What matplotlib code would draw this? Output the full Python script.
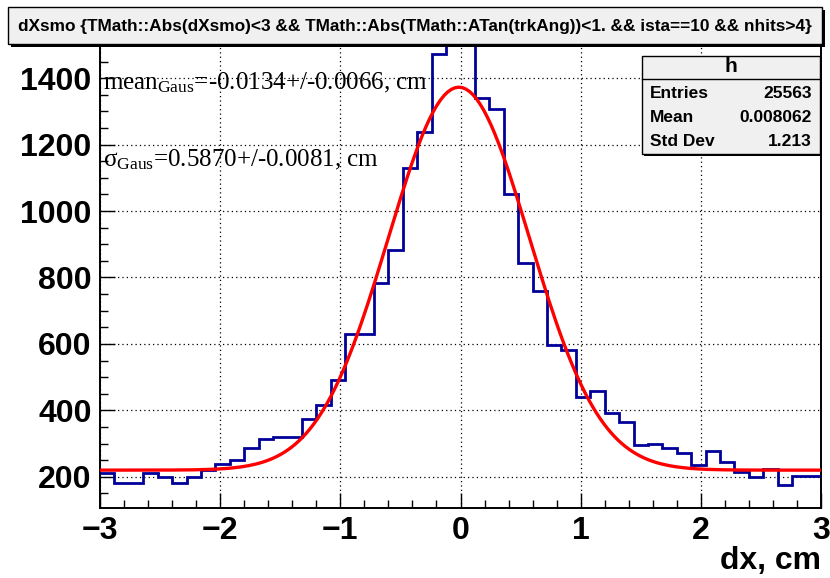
import numpy as np
import matplotlib
matplotlib.use("Agg")
import matplotlib.pyplot as plt
from matplotlib.patches import Rectangle
from matplotlib.ticker import MultipleLocator

# ---- histogram of dx residuals (50 bins on [-3, 3]) ----
x_min, x_max, n_bins = -3.0, 3.0, 50
counts = [
    212, 180, 182, 212, 200, 182, 200, 220, 237, 250,
    287, 313, 319, 320, 375, 416, 490, 630, 630, 783,
    883, 1129, 1237, 1473, 1505, 1515, 1340, 1306, 1050, 843,
    759, 597, 582, 441, 459, 393, 364, 295, 300, 287,
    272, 235, 277, 243, 214, 200, 222, 175, 202, 202,
]

# ---- gaussian + constant fit ----
fit_mean = -0.0134
fit_mean_err = 0.0066
fit_sigma = 0.5870
fit_sigma_err = 0.0081
fit_const = 220.0
fit_amp = 1153.0

# ---- statistics box ----
stats_name = "h"
stats_labels = ["Entries", "Mean", "Std Dev"]
stats_values = ["25563", "0.008062", "1.213"]

title_text = ("dXsmo {TMath::Abs(dXsmo)<3 && TMath::Abs(TMath::ATan(trkAng))<1. "
              "&& ista==10 && nhits>4}")
x_label = "dx, cm"
y_range = (106, 1497)

W, H = 830, 578
plt.rcParams["mathtext.fontset"] = "custom"
plt.rcParams["mathtext.rm"] = "Liberation Serif"
plt.rcParams["mathtext.it"] = "Liberation Serif:italic"
plt.rcParams["axes.unicode_minus"] = True

fig = plt.figure(figsize=(W / 100, H / 100), dpi=100)
fig.patch.set_facecolor("white")


def fx(px):
    return px / W


def fy(py):
    return 1 - py / H


# frame in pixel coordinates
L, R, T, B = 100, 821, 46, 508
ax = fig.add_axes([fx(L), fy(B), fx(R) - fx(L), fy(T) - fy(B)])

edges = np.linspace(x_min, x_max, n_bins + 1)
ax.stairs(counts, edges, baseline=None, color="#000099", linewidth=2.0, zorder=3)

xf = np.linspace(x_min, x_max, 200)
yf = fit_const + fit_amp * np.exp(-0.5 * ((xf - fit_mean) / fit_sigma) ** 2)
ax.plot(xf, yf, color="#ff0000", linewidth=2.4, zorder=4)

ax.set_xlim(x_min, x_max)
ax.set_ylim(*y_range)
ax.xaxis.set_major_locator(MultipleLocator(1))
ax.xaxis.set_minor_locator(MultipleLocator(0.2))
ax.yaxis.set_major_locator(MultipleLocator(200))
ax.yaxis.set_minor_locator(MultipleLocator(50))
ax.grid(True, which="major", color="black", linestyle=(0, (1, 2.5)), linewidth=0.9)
ax.tick_params(which="major", direction="in", length=11, width=1.0,
               top=False, right=False, pad=8)
ax.tick_params(which="minor", direction="in", length=5.5, width=1.0,
               top=False, right=False)
for s in ax.spines.values():
    s.set_linewidth(1.4)

tick_font = dict(family=["Liberation Sans", "DejaVu Sans"], weight="bold", size=23)
for lab in ax.get_xticklabels() + ax.get_yticklabels():
    lab.set_fontproperties(matplotlib.font_manager.FontProperties(**tick_font))
ax.tick_params(axis="y", pad=6)
ax.tick_params(axis="x", pad=6)

fig.text(fx(821), fy(561), x_label, ha="right", va="center",
         family=["Liberation Sans", "DejaVu Sans"], weight="bold", size=23)

# fit result annotations
serif = ["Liberation Serif", "DejaVu Serif"]
ax.text(0.004, 0.905,
        r"mean$_{\mathrm{Gaus}}$=%.4f+/-%.4f, cm" % (fit_mean, fit_mean_err),
        transform=ax.transAxes, family=serif, size=18, va="baseline", ha="left",
        zorder=5)
ax.text(0.004, 0.74,
        r"$\mathrm{\sigma}_{\mathrm{Gaus}}$=%.4f+/-%.4f, cm" % (fit_sigma, fit_sigma_err),
        transform=ax.transAxes, family=serif, size=18, va="baseline", ha="left",
        zorder=5)


def pave(x0, y0, x1, y1, shadow=3):
    # shaded box with drop shadow, in pixel coordinates
    fig.add_artist(Rectangle((fx(x0 + shadow), fy(y1 + shadow)),
                             fx(x1 - x0), fy(y0) - fy(y1),
                             transform=fig.transFigure, facecolor="black",
                             edgecolor="none", zorder=9))
    fig.add_artist(Rectangle((fx(x0), fy(y1)), fx(x1 - x0), fy(y0) - fy(y1),
                             transform=fig.transFigure, facecolor="#f0f0f0",
                             edgecolor="black", linewidth=1.0, zorder=10))


# title box
pave(8, 7, 822, 44)
fig.text(fx(415), fy(26), title_text, ha="center", va="center",
         family=["Liberation Sans Narrow", "Liberation Sans", "DejaVu Sans"],
         weight="bold", size=12.4, zorder=11)

# stats box
sx0, sx1, sy0, sy1 = 642, 820, 56, 154
pave(sx0, sy0, sx1, sy1, shadow=2)
fig.add_artist(plt.Line2D([fx(sx0), fx(sx1)], [fy(79), fy(79)],
                          transform=fig.transFigure, color="black",
                          linewidth=1.0, zorder=11))
fig.text(fx((sx0 + sx1) / 2), fy(67), stats_name, ha="center", va="center",
         family=["Liberation Sans", "DejaVu Sans"], weight="bold", size=15,
         zorder=11)
row_y = [93, 118, 142]
for lab, val, yy in zip(stats_labels, stats_values, row_y):
    fig.text(fx(650), fy(yy), lab, ha="left", va="center",
             family=["Liberation Sans", "DejaVu Sans"], weight="bold",
             size=12.5, zorder=11)
    fig.text(fx(812), fy(yy), val, ha="right", va="center",
             family=["Liberation Sans", "DejaVu Sans"], weight="bold",
             size=12.5, zorder=11)

fig.savefig("out.png", dpi=100)
